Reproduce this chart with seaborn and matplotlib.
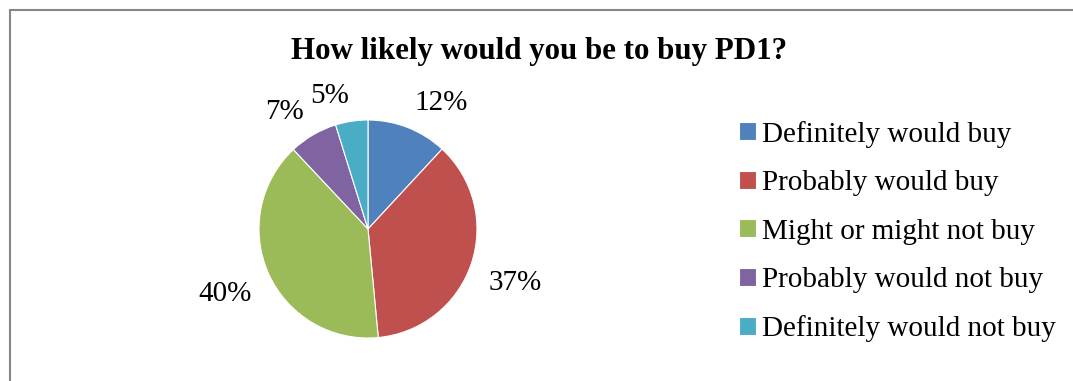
import matplotlib
matplotlib.use("Agg")
import numpy as np
import matplotlib.pyplot as plt
import seaborn as sns
from matplotlib.lines import Line2D

categories = ["Definitely would buy", "Probably would buy", "Might or might not buy",
              "Probably would not buy", "Definitely would not buy"]
values = [11.9, 36.6, 39.5, 7.2, 4.8]
colors = ["#4F81BD", "#C0504D", "#9BBB59", "#8064A2", "#4BACC6"]
title = "How likely would you be to buy PD1?"

sns.set_theme(style="white")
plt.rcParams["font.family"] = ["Liberation Serif", "DejaVu Serif"]
plt.rcParams["text.color"] = "black"

W, H = 1073, 381
fig = plt.figure(figsize=(W / 100, H / 100), dpi=100)
fig.patch.set_facecolor("white")

# frame (cut off at right and bottom like the reference)
fig.add_artist(Line2D([10 / W, 1.0], [1 - 10 / H, 1 - 10 / H], color="#868686", lw=1.5))
fig.add_artist(Line2D([10 / W, 10 / W], [0, 1 - 10 / H], color="#868686", lw=1.5))

cx, cy, r = 368, 229, 109
ax = fig.add_axes([(cx - r) / W, (H - cy - r) / H, 2 * r / W, 2 * r / H])
wedges, texts, autotexts = ax.pie(
    values, colors=colors, startangle=90, counterclock=False,
    autopct="%.0f%%", pctdistance=1.17,
    wedgeprops=dict(linewidth=0.8, edgecolor="white"),
    textprops=dict(fontsize=21, color="#000000"),
)
ax.set_xlim(-1, 1)
ax.set_ylim(-1, 1)
ax.set_aspect("equal")

# outside-end label alignment (Excel style): anchor the text box at the wedge's mid-angle
for w, t in zip(wedges, autotexts):
    ang = np.deg2rad((w.theta1 + w.theta2) / 2)
    c, s = np.cos(ang), np.sin(ang)
    t.set_ha("center" if abs(c) < 0.1 else ("left" if c > 0 else "right"))
    t.set_va("baseline" if s > 0.3 else ("top" if s < -0.3 else "center"))

fig.text(539 / W, 1 - 51 / H, title, ha="center", va="center",
         fontsize=22.3, fontweight="bold", color="black")

leg = fig.legend(wedges, categories, loc="upper left",
                 bbox_to_anchor=(727 / W, 1 - 109 / H), frameon=False,
                 fontsize=21, labelcolor="black",
                 handlelength=0.58, handleheight=0.58,
                 handletextpad=0.22, labelspacing=0.77, borderaxespad=0)

fig.savefig("out.png", dpi=100, facecolor="white")
